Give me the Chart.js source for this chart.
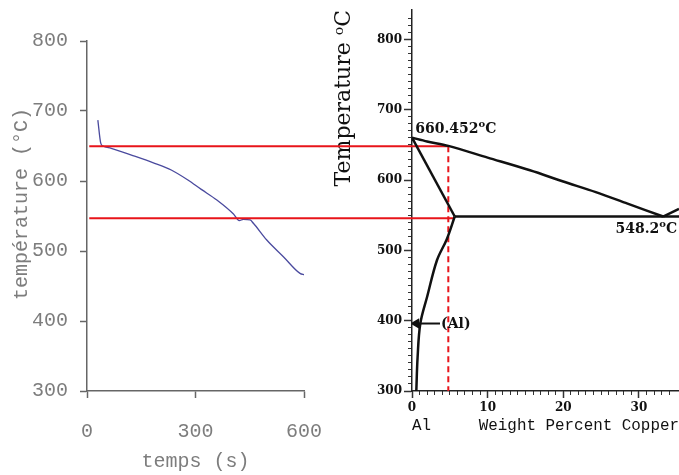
<!DOCTYPE html>
<html><head><meta charset="utf-8">
<script src="https://cdn.jsdelivr.net/npm/chart.js@4"></script>
<style>
html,body{margin:0;padding:0;background:#fff;overflow:hidden}
#wrap{position:relative;width:679px;height:475px;background:#fff;overflow:hidden}
canvas{position:absolute;left:0;top:0}
</style></head>
<body><div id="wrap"><canvas id="c1" width="679" height="475"></canvas><canvas id="c2" width="685" height="475"></canvas></div>
<script>
// ---- cooling curve (left) ----
const coolTime = [30, 38, 44, 67, 123, 187, 233, 279, 316, 359, 405, 421, 432, 451, 460, 497, 543, 589, 601];
const coolTemp = [687, 654, 650, 646.7, 637, 625.3, 615.7, 601.4, 588, 572.8, 552.8, 543.3, 545.3, 544.3, 539.6, 515.7, 491.9, 468, 466];
const timeTicks = [0, 300, 600];
const coolTempTicks = [300, 400, 500, 600, 700, 800];

// ---- Al-Cu phase diagram (right) ----
const liquidusWt = [0, 2, 4.8, 10, 15.6, 20, 24.3, 28.5, 33.2];
const liquidusT  = [660.452, 655, 648.7, 632, 614, 598, 583, 566.5, 548.2];
const liquidus2Wt = [33.2, 35.3];
const liquidus2T  = [548.2, 559];
const solidusWt = [0, 5.65];
const solidusT  = [660.452, 548.2];
const eutecticWt = [5.65, 35.3];
const eutecticT  = [548.2, 548.2];
const solvusWt = [5.65, 4.6, 3.3, 2.0, 1.1, 0.74, 0.57];
const solvusT  = [548.2, 516, 486, 434, 396, 348, 300];
const wtTicks = [0, 10, 20, 30];
const phaseTempTicks = [300, 400, 500, 600, 700, 800];
// construction lines (red), temperatures
const redUpperWt = [-42.67, 4.8];
const redUpperT  = [648.3, 648.3];
const redLowerWt = [-42.67, 5.65];
const redLowerT  = [545.8, 545.8];
const redDashWt = [4.8, 4.8];
const redDashT  = [648.3, 300];
const alPointerWt = [0.55, 3.7];
const alPointerT  = [396, 396];

const pts = (xs, ys) => xs.map((x, i) => ({x: x, y: ys[i]}));

const mono20 = {family: '"Liberation Mono", monospace', size: 20};
const gray = '#7d7d7d';
const axisGray = '#666';

new Chart(document.getElementById('c1'), {
  type: 'scatter',
  data: {datasets: [{
    data: pts(coolTime, coolTemp), showLine: true, borderColor: '#4a4a9e',
    borderWidth: 1.3, pointRadius: 0, cubicInterpolationMode: 'monotone'
  }]},
  options: {
    responsive: false, animation: false, events: [],
    plugins: {legend: {display: false}, tooltip: {enabled: false}},
    layout: {padding: {left: 0, top: 41, right: 375, bottom: 0}},
    scales: {
      x: {
        type: 'linear', min: 0, max: 600,
        afterBuildTicks: s => { s.ticks = timeTicks.map(v => ({value: v})); },
        afterFit: s => { s.height = 84; },
        ticks: {font: mono20, color: gray, padding: 22, maxRotation: 0, autoSkip: false},
        grid: {drawOnChartArea: false, tickLength: 7, color: axisGray, tickWidth: 1.5},
        border: {color: axisGray, width: 1.5},
        title: {display: true, text: 'temps (s)', font: mono20, color: gray, padding: {top: 0, bottom: 1}}
      },
      y: {
        type: 'linear', min: 300, max: 800,
        afterBuildTicks: s => { s.ticks = coolTempTicks.map(v => ({value: v})); },
        afterFit: s => { s.width = 87; },
        ticks: {font: mono20, color: gray, padding: 12, autoSkip: false},
        grid: {drawOnChartArea: false, tickLength: 7, color: axisGray, tickWidth: 1.5},
        border: {color: axisGray, width: 1.5},
        title: {display: true, text: '  température (°C)', font: mono20, color: gray, padding: {top: 10, bottom: 0}}
      }
    }
  }
});

const serifBold12 = {family: '"DejaVu Serif", serif', size: 12, weight: 'bold'};
const black = '#111';

const annotate = {
  id: 'annotate',
  afterDatasetsDraw(chart) {
    const {ctx, scales: {x, y}} = chart;
    const items = [
      {main: '660.452', sup: 'o', tail: 'C', wx: 0.43, t: 666.7},
      {main: '548.2', sup: 'o', tail: 'C', wx: 26.9, t: 524.4},
      {main: '(Al)', sup: '', tail: '', wx: 3.85, t: 389}
    ];
    ctx.save();
    ctx.fillStyle = black;
    ctx.textBaseline = 'alphabetic';
    ctx.textAlign = 'left';
    items.forEach(it => {
      let px = x.getPixelForValue(it.wx);
      const py = y.getPixelForValue(it.t);
      ctx.font = 'bold 14px "DejaVu Serif", serif';
      ctx.fillText(it.main, px, py);
      px += ctx.measureText(it.main).width;
      if (it.sup) {
        ctx.font = 'bold 10px "DejaVu Serif", serif';
        ctx.fillText(it.sup, px, py - 6);
        px += ctx.measureText(it.sup).width;
        ctx.font = 'bold 14px "DejaVu Serif", serif';
        ctx.fillText(it.tail, px, py);
      }
    });
    ctx.restore();
  }
};

const line = (data, color, width, extra) => Object.assign({
  data: data, showLine: true, borderColor: color, backgroundColor: color,
  borderWidth: width, pointRadius: 0, tension: 0
}, extra || {});

new Chart(document.getElementById('c2'), {
  type: 'scatter',
  data: {datasets: [
    line(pts(liquidusWt, liquidusT), black, 2.5, {tension: 0.3}),
    line(pts(liquidus2Wt, liquidus2T), black, 2.5),
    line(pts(solidusWt, solidusT), black, 2.5),
    line(pts(eutecticWt, eutecticT), black, 2.5),
    line(pts(solvusWt, solvusT), black, 2.5, {tension: 0.35}),
    line(pts(redUpperWt, redUpperT), '#e8141a', 2, {clip: false}),
    line(pts(redLowerWt, redLowerT), '#e8141a', 2, {clip: false}),
    line(pts(redDashWt, redDashT), '#e8141a', 2, {borderDash: [6, 4]}),
    line(pts(alPointerWt, alPointerT), black, 2, {pointRadius: [4, 0], pointStyle: 'triangle', rotation: -90})
  ]},
  options: {
    responsive: false, animation: false, events: [],
    plugins: {legend: {display: false}, tooltip: {enabled: false}},
    layout: {padding: {left: 330, top: 10, right: 0, bottom: 0}},
    scales: {
      x: {
        type: 'linear', min: 0, max: 35.3,
        afterBuildTicks: s => { s.ticks = wtTicks.map(v => ({value: v})); },
        afterFit: s => { s.height = 84; },
        ticks: {font: serifBold12, color: black, padding: 3, maxRotation: 0, autoSkip: false},
        grid: {drawOnChartArea: false, tickLength: 7, color: '#333', tickWidth: 1.5},
        border: {color: '#222', width: 1.5},
        title: {display: true, text: 'Al     Weight Percent Copper', align: 'end',
          font: {family: '"Liberation Mono", monospace', size: 16}, color: black, padding: {top: 0, bottom: 40}}
      },
      xm: {
        axis: 'x', type: 'linear', min: 0, max: 35.3, position: {y: 300},
        afterBuildTicks: s => { s.ticks = s.ticks.filter(t => Number.isInteger(t.value)); },
        ticks: {display: false, stepSize: 1},
        grid: {drawOnChartArea: false, tickLength: 4, color: '#333', tickWidth: 1},
        border: {display: false}
      },
      y: {
        type: 'linear', min: 300, max: 842,
        afterBuildTicks: s => { s.ticks = phaseTempTicks.map(v => ({value: v})); },
        afterFit: s => { s.width = 82; },
        ticks: {font: serifBold12, color: black, padding: 2, autoSkip: false},
        grid: {drawOnChartArea: false, tickLength: 8, color: '#333', tickWidth: 1.5},
        border: {color: '#222', width: 1.5},
        title: {display: true, text: 'Temperature ᵒC', align: 'end',
          font: {family: '"DejaVu Serif", serif', size: 22}, color: black, padding: {top: 1, bottom: 0}}
      },
      ym: {
        axis: 'y', type: 'linear', min: 300, max: 842, position: {x: 0},
        afterBuildTicks: s => { s.ticks = s.ticks.filter(t => t.value % 10 === 0); },
        ticks: {display: false, stepSize: 10},
        grid: {drawOnChartArea: false, tickLength: 4, color: '#333', tickWidth: 1},
        border: {display: false}
      }
    }
  },
  plugins: [annotate]
});
</script>
</body></html>
